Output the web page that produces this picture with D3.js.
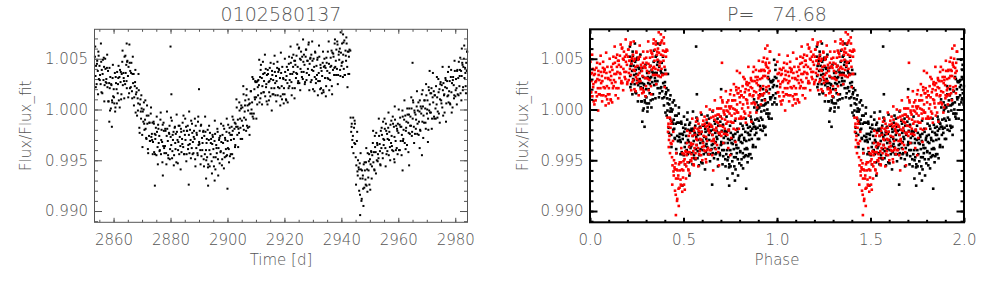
<!DOCTYPE html>
<html>
<head>
<meta charset="utf-8">
<script src="https://cdn.jsdelivr.net/npm/d3@7/dist/d3.min.js"></script>
<style>
  html, body { margin: 0; padding: 0; background: #fff; }
  svg { display: block; }
  text { font-family: 'DejaVu Sans', sans-serif; font-weight: 200; fill: #555; }
</style>
</head>
<body>
<div id="chart"></div>
<script>
const starId = '0102580137';
const period = 74.68;
const epoch = 2912.3;

const timeTicks = [2860, 2880, 2900, 2920, 2940, 2960, 2980];
const phaseTicks = [0, 0.5, 1, 1.5, 2];
const fluxTicks = [0.990, 0.995, 1.000, 1.005];

// [time (d), flux/flux_fit]
const lightCurve = [
  [2853.45,1.0052],[2853.65,1.0033],[2853.85,1.0043],
  [2854.05,1.0025],[2854.25,1.0048],[2854.45,1.0038],[2854.65,1.0057],[2854.85,1.0030],
  [2855.05,1.0043],[2855.25,1.0034],[2855.45,1.0025],[2855.65,1.0047],[2855.85,1.0039],
  [2856.05,1.0016],[2856.25,1.0049],[2856.45,1.0029],[2856.65,1.0042],[2856.85,1.0024],
  [2857.05,1.0050],[2857.25,1.0027],[2857.45,1.0030],[2857.65,1.0041],[2857.85,1.0022],
  [2858.05,1.0038],[2858.25,1.0008],[2858.45,1.0026],[2858.5,0.9988],[2858.65,1.0021],[2858.85,1.0032],
  [2859.05,1.0001],[2859.25,1.0024],[2859.4,0.9983],[2859.45,1.0009],[2859.65,1.0031],[2859.85,1.0013],
  [2860.05,1.0020],[2860.25,1.0006],[2860.45,1.0036],[2860.65,1.0002],[2860.85,1.0026],
  [2861.05,1.0020],[2861.25,1.0037],[2861.45,1.0016],[2861.65,1.0031],[2861.85,1.0009],
  [2862.05,1.0032],[2862.25,1.0039],[2862.45,1.0027],[2862.65,1.0010],[2862.85,1.0035],
  [2863.05,1.0047],[2863.25,1.0024],[2863.45,1.0036],[2863.65,1.0028],[2863.85,1.0052],
  [2864.05,1.0025],[2864.25,1.0036],[2864.45,1.0044],[2864.6,1.0065],[2864.65,1.0021],[2864.85,1.0048],
  [2865.05,1.0033],[2865.25,1.0042],[2865.45,1.0016],[2865.65,1.0046],[2865.85,1.0038],
  [2866.05,1.0022],[2866.25,1.0046],[2866.45,1.0018],[2866.65,1.0035],[2866.85,1.0026],
  [2867.05,1.0035],[2867.25,1.0012],[2867.45,1.0023],[2867.65,1.0039],[2867.85,1.0015],
  [2868.05,1.0017],[2868.25,0.9994],[2868.45,1.0011],[2868.65,1.0006],[2868.85,1.0019],
  [2869.05,0.9982],[2869.25,1.0005],[2869.45,1.0010],[2869.65,0.9991],[2869.85,1.0001],
  [2870.05,0.9975],[2870.25,0.9998],[2870.45,0.9988],[2870.65,1.0007],[2870.85,0.9980],
  [2871.05,0.9990],[2871.25,0.9981],[2871.45,0.9972],[2871.65,0.9994],[2871.85,0.9986],
  [2872.05,0.9961],[2872.25,0.9994],[2872.45,0.9974],[2872.65,0.9987],[2872.85,0.9969],
  [2873.05,0.9996],[2873.25,0.9973],[2873.45,0.9976],[2873.65,0.9987],[2873.85,0.9968],
  [2874.05,0.9988],[2874.25,0.9958],[2874.45,0.9976],[2874.5,0.9925],[2874.65,0.9971],[2874.85,0.9982],
  [2875.05,0.9955],[2875.25,0.9978],[2875.45,0.9963],[2875.65,0.9985],[2875.85,0.9967],
  [2876.05,0.9974],[2876.25,0.9960],[2876.45,0.9990],[2876.65,0.9956],[2876.85,0.9980],
  [2877.05,0.9968],[2877.25,0.9985],[2877.3,0.9935],[2877.45,0.9964],[2877.65,0.9979],[2877.85,0.9957],
  [2878.05,0.9964],[2878.25,0.9979],[2878.45,0.9957],[2878.65,0.9974],[2878.85,0.9981],
  [2879.05,0.9969],[2879.25,0.9952],[2879.45,0.9977],[2879.65,0.9984],[2879.85,0.9961],
  [2880.0,1.0062],[2880.05,0.9973],[2880.25,0.9965],[2880.3,1.0015],[2880.45,0.9989],[2880.65,0.9959],[2880.85,0.9970],
  [2881.05,0.9978],[2881.25,0.9955],[2881.45,0.9982],[2881.65,0.9967],[2881.85,0.9976],
  [2882.05,0.9948],[2882.25,0.9978],[2882.45,0.9970],[2882.65,0.9960],[2882.85,0.9984],
  [2883.05,0.9956],[2883.25,0.9973],[2883.45,0.9964],[2883.65,0.9981],[2883.85,0.9958],
  [2884.05,0.9971],[2884.25,0.9987],[2884.45,0.9963],[2884.65,0.9979],[2884.85,0.9956],
  [2885.05,0.9975],[2885.25,0.9970],[2885.45,0.9983],[2885.65,0.9956],[2885.85,0.9979],
  [2886.05,0.9984],[2886.25,0.9965],[2886.4,0.9926],[2886.45,0.9975],[2886.65,0.9957],[2886.85,0.9980],
  [2887.05,0.9970],[2887.25,0.9989],[2887.45,0.9962],[2887.65,0.9977],[2887.85,0.9968],
  [2888.05,0.9957],[2888.25,0.9979],[2888.45,0.9971],[2888.65,0.9951],[2888.85,0.9984],
  [2889.05,0.9962],[2889.25,0.9975],[2889.45,0.9957],[2889.65,0.9988],[2889.85,0.9965],
  [2890.0,1.0020],[2890.05,0.9968],[2890.25,0.9979],[2890.45,0.9960],[2890.65,0.9984],[2890.85,0.9954],
  [2891.05,0.9972],[2891.25,0.9967],[2891.45,0.9978],[2891.65,0.9951],[2891.85,0.9974],
  [2892.05,0.9956],[2892.25,0.9978],[2892.45,0.9960],[2892.5,0.9932],[2892.65,0.9967],[2892.85,0.9953],
  [2893.05,0.9980],[2893.2,0.9925],[2893.25,0.9946],[2893.45,0.9970],[2893.65,0.9960],[2893.85,0.9977],
  [2894.05,0.9956],[2894.25,0.9971],[2894.45,0.9949],[2894.65,0.9966],[2894.85,0.9973],
  [2895.05,0.9961],[2895.25,0.9944],[2895.45,0.9969],[2895.5,0.9930],[2895.65,0.9976],[2895.85,0.9953],
  [2896.05,0.9965],[2896.25,0.9957],[2896.45,0.9981],[2896.65,0.9951],[2896.85,0.9962],
  [2897.05,0.9970],[2897.25,0.9947],[2897.45,0.9974],[2897.65,0.9959],[2897.85,0.9968],
  [2898.05,0.9945],[2898.25,0.9975],[2898.45,0.9967],[2898.65,0.9957],[2898.85,0.9981],
  [2899.05,0.9953],[2899.25,0.9970],[2899.45,0.9961],[2899.65,0.9978],[2899.85,0.9955],
  [2900.0,0.9922],[2900.05,0.9969],[2900.25,0.9985],[2900.45,0.9961],[2900.65,0.9977],[2900.85,0.9954],
  [2901.05,0.9975],[2901.25,0.9970],[2901.45,0.9983],[2901.65,0.9956],[2901.85,0.9979],
  [2902.05,0.9990],[2902.25,0.9971],[2902.45,0.9981],[2902.65,0.9963],[2902.85,0.9986],
  [2903.05,0.9983],[2903.25,1.0002],[2903.45,0.9975],[2903.65,0.9990],[2903.85,0.9981],
  [2904.05,0.9977],[2904.25,0.9999],[2904.45,0.9991],[2904.65,0.9971],[2904.85,1.0004],
  [2905.05,0.9989],[2905.25,1.0002],[2905.45,0.9984],[2905.65,1.0015],[2905.85,0.9992],
  [2906.05,0.9998],[2906.25,1.0009],[2906.45,0.9990],[2906.65,1.0014],[2906.85,0.9984],
  [2907.05,1.0004],[2907.25,0.9999],[2907.45,1.0010],[2907.65,0.9983],[2907.85,1.0006],
  [2908.05,0.9996],[2908.25,1.0018],[2908.45,1.0000],[2908.65,1.0007],[2908.85,0.9993],
  [2909.05,1.0030],[2909.25,0.9996],[2909.45,1.0020],[2909.65,1.0010],[2909.85,1.0027],
  [2910.05,1.0012],[2910.25,1.0027],[2910.45,1.0005],[2910.65,1.0022],[2910.85,1.0029],
  [2911.05,1.0024],[2911.25,1.0007],[2911.45,1.0032],[2911.65,1.0039],[2911.85,1.0016],
  [2912.05,1.0031],[2912.25,1.0023],[2912.45,1.0047],[2912.65,1.0017],[2912.85,1.0028],
  [2913.05,1.0036],[2913.25,1.0013],[2913.45,1.0040],[2913.65,1.0025],[2913.85,1.0034],
  [2914.05,1.0005],[2914.25,1.0035],[2914.45,1.0027],[2914.65,1.0017],[2914.85,1.0041],
  [2915.05,1.0013],[2915.25,1.0030],[2915.45,1.0021],[2915.65,1.0038],[2915.85,1.0015],
  [2916.05,1.0029],[2916.25,1.0045],[2916.45,1.0021],[2916.65,1.0037],[2916.85,1.0014],
  [2917.05,1.0033],[2917.25,1.0028],[2917.45,1.0041],[2917.65,1.0014],[2917.85,1.0037],
  [2918.05,1.0040],[2918.25,1.0021],[2918.45,1.0031],[2918.65,1.0013],[2918.85,1.0036],
  [2919.05,1.0023],[2919.25,1.0042],[2919.45,1.0015],[2919.65,1.0030],[2919.85,1.0021],
  [2920.05,1.0015],[2920.25,1.0037],[2920.45,1.0029],[2920.65,1.0009],[2920.85,1.0042],
  [2921.05,1.0026],[2921.25,1.0039],[2921.45,1.0021],[2921.65,1.0052],[2921.85,1.0029],
  [2922.05,1.0035],[2922.25,1.0046],[2922.45,1.0027],[2922.65,1.0051],[2922.85,1.0021],
  [2923.05,1.0042],[2923.25,1.0037],[2923.45,1.0048],[2923.65,1.0021],[2923.85,1.0044],
  [2924.05,1.0031],[2924.25,1.0053],[2924.45,1.0035],[2924.65,1.0042],[2924.85,1.0028],
  [2925.05,1.0060],[2925.25,1.0026],[2925.45,1.0050],[2925.65,1.0040],[2925.85,1.0057],
  [2926.05,1.0037],[2926.25,1.0052],[2926.45,1.0030],[2926.65,1.0047],[2926.85,1.0054],
  [2927.05,1.0044],[2927.25,1.0027],[2927.45,1.0052],[2927.65,1.0059],[2927.85,1.0036],
  [2928.05,1.0048],[2928.25,1.0040],[2928.45,1.0064],[2928.65,1.0034],[2928.85,1.0045],
  [2929.05,1.0050],[2929.25,1.0027],[2929.45,1.0054],[2929.65,1.0039],[2929.85,1.0048],
  [2930.05,1.0020],[2930.25,1.0050],[2930.45,1.0042],[2930.65,1.0032],[2930.85,1.0056],
  [2931.05,1.0026],[2931.25,1.0043],[2931.45,1.0034],[2931.65,1.0051],[2931.85,1.0028],
  [2932.05,1.0036],[2932.25,1.0052],[2932.45,1.0028],[2932.65,1.0044],[2932.85,1.0021],
  [2933.05,1.0038],[2933.25,1.0033],[2933.45,1.0046],[2933.65,1.0019],[2933.85,1.0042],
  [2934.05,1.0050],[2934.25,1.0031],[2934.45,1.0041],[2934.65,1.0023],[2934.85,1.0046],
  [2935.05,1.0038],[2935.25,1.0057],[2935.45,1.0030],[2935.65,1.0045],[2935.85,1.0036],
  [2936.05,1.0029],[2936.25,1.0051],[2936.45,1.0043],[2936.65,1.0023],[2936.85,1.0056],
  [2937.05,1.0039],[2937.25,1.0052],[2937.45,1.0034],[2937.65,1.0065],[2937.85,1.0042],
  [2938.05,1.0048],[2938.25,1.0059],[2938.45,1.0040],[2938.65,1.0064],[2938.85,1.0034],
  [2939.05,1.0054],[2939.25,1.0049],[2939.45,1.0060],[2939.65,1.0033],[2939.85,1.0056],
  [2940.05,1.0043],[2940.25,1.0065],[2940.45,1.0047],[2940.6,1.0074],[2940.65,1.0054],[2940.85,1.0040],
  [2941.05,1.0068],[2941.25,1.0034],[2941.45,1.0058],[2941.65,1.0048],[2941.85,1.0065],
  [2942.05,1.0042],[2942.25,1.0057],[2942.45,1.0035],[2942.65,1.0052],[2942.85,1.0059],
  [2943.25,0.9992],[2943.45,0.9978],[2943.65,0.9986],[2943.85,0.9970],
  [2944.05,0.9974],[2944.25,0.9957],[2944.45,0.9982],[2944.65,0.9989],[2944.85,0.9966],
  [2945.05,0.9953],[2945.25,0.9945],[2945.45,0.9969],[2945.65,0.9939],[2945.85,0.9950],
  [2946.05,0.9943],[2946.25,0.9920],[2946.45,0.9947],[2946.6,0.9896],[2946.65,0.9932],[2946.85,0.9941],
  [2947.05,0.9910],[2947.25,0.9940],[2947.45,0.9932],[2947.65,0.9922],[2947.85,0.9946],
  [2948.05,0.9923],[2948.25,0.9940],[2948.45,0.9931],[2948.65,0.9948],[2948.85,0.9925],
  [2949.05,0.9941],[2949.25,0.9957],[2949.45,0.9933],[2949.65,0.9949],[2949.85,0.9926],
  [2950.05,0.9951],[2950.25,0.9946],[2950.45,0.9959],[2950.65,0.9932],[2950.85,0.9955],
  [2951.05,0.9967],[2951.25,0.9948],[2951.45,0.9958],[2951.65,0.9940],[2951.85,0.9963],
  [2952.05,0.9958],[2952.25,0.9977],[2952.45,0.9950],[2952.65,0.9965],[2952.85,0.9956],
  [2953.05,0.9952],[2953.25,0.9974],[2953.45,0.9966],[2953.65,0.9946],[2953.85,0.9979],
  [2954.05,0.9962],[2954.25,0.9975],[2954.45,0.9957],[2954.65,0.9988],[2954.85,0.9965],
  [2955.05,0.9970],[2955.25,0.9981],[2955.45,0.9962],[2955.65,0.9986],[2955.85,0.9956],
  [2956.05,0.9976],[2956.25,0.9971],[2956.45,0.9982],[2956.65,0.9955],[2956.85,0.9978],
  [2957.05,0.9963],[2957.25,0.9985],[2957.45,0.9967],[2957.65,0.9974],[2957.85,0.9960],
  [2958.05,0.9993],[2958.25,0.9959],[2958.45,0.9983],[2958.65,0.9973],[2958.7,0.9948],[2958.85,0.9990],
  [2959.05,0.9969],[2959.25,0.9984],[2959.45,0.9962],[2959.65,0.9979],[2959.85,0.9986],
  [2960.05,0.9977],[2960.25,0.9960],[2960.45,0.9985],[2960.65,0.9992],[2960.85,0.9969],
  [2961.05,0.9983],[2961.25,0.9975],[2961.45,0.9999],[2961.5,0.9940],[2961.65,0.9969],[2961.85,0.9980],
  [2962.05,0.9990],[2962.25,0.9967],[2962.45,0.9994],[2962.65,0.9979],[2962.85,0.9988],
  [2963.05,0.9965],[2963.25,0.9995],[2963.45,0.9987],[2963.65,0.9977],[2963.8,0.9945],[2963.85,1.0001],
  [2964.05,0.9976],[2964.25,0.9993],[2964.45,0.9984],[2964.65,1.0001],[2964.85,0.9978],
  [2965.0,1.0046],[2965.05,0.9991],[2965.25,1.0007],[2965.45,0.9983],[2965.65,0.9999],[2965.85,0.9976],
  [2966.05,0.9995],[2966.25,0.9990],[2966.45,1.0003],[2966.65,0.9976],[2966.85,0.9999],
  [2967.05,1.0007],[2967.25,0.9988],[2967.45,0.9998],[2967.5,0.9962],[2967.65,0.9980],[2967.85,1.0003],
  [2968.05,0.9996],[2968.25,1.0015],[2968.3,0.9955],[2968.45,0.9988],[2968.65,1.0003],[2968.85,0.9994],
  [2969.05,0.9987],[2969.25,1.0009],[2969.45,1.0001],[2969.65,0.9981],[2969.85,1.0014],
  [2970.05,0.9996],[2970.25,1.0009],[2970.4,0.9968],[2970.45,0.9991],[2970.65,1.0022],[2970.85,0.9999],
  [2971.0,1.0038],[2971.05,1.0005],[2971.25,1.0016],[2971.45,0.9997],[2971.65,1.0021],[2971.85,0.9991],
  [2972.05,1.0012],[2972.25,1.0007],[2972.45,1.0018],[2972.65,0.9991],[2972.85,1.0014],
  [2973.05,1.0001],[2973.25,1.0023],[2973.45,1.0005],[2973.65,1.0012],[2973.85,0.9998],
  [2974.05,1.0030],[2974.25,0.9996],[2974.45,1.0020],[2974.65,1.0010],[2974.85,1.0027],
  [2975.05,1.0009],[2975.25,1.0024],[2975.45,1.0002],[2975.65,1.0019],[2975.85,1.0026],
  [2976.05,1.0014],[2976.25,0.9997],[2976.45,1.0022],[2976.65,1.0029],[2976.85,1.0006],
  [2977.05,1.0021],[2977.25,1.0013],[2977.45,1.0037],[2977.65,1.0007],[2977.85,1.0018],
  [2978.05,1.0028],[2978.25,1.0005],[2978.45,1.0032],[2978.65,1.0017],[2978.85,1.0026],
  [2979.05,1.0002],[2979.25,1.0032],[2979.45,1.0024],[2979.65,1.0014],[2979.85,1.0038],
  [2980.05,1.0013],[2980.25,1.0030],[2980.45,1.0021],[2980.65,1.0038],[2980.85,1.0015],
  [2981.05,1.0031],[2981.25,1.0047],[2981.45,1.0023],[2981.65,1.0039],[2981.85,1.0016],
  [2982.05,1.0038],[2982.25,1.0033],[2982.3,1.0060],[2982.45,1.0046],[2982.65,1.0019],[2982.85,1.0042],
  [2983.05,1.0050],[2983.25,1.0031],[2983.45,1.0041],[2983.65,1.0023],[2983.85,1.0046],
  [2984.05,1.0038],[2984.2,1.0057],
  // in-between samples, wider scatter
  [2853.55,1.0062],[2853.75,1.0022],
  [2854.15,1.0045],[2854.55,1.0015],[2854.75,1.0053],
  [2855.15,1.0029],[2855.55,1.0065],[2855.75,1.0017],
  [2856.15,1.0035],[2856.55,1.0051],[2856.75,1.0008],
  [2857.15,1.0040],[2857.55,1.0026],[2857.75,1.0054],
  [2858.15,1.0008],[2858.55,1.0041],[2858.75,0.9999],
  [2859.15,1.0025],[2859.55,1.0007],[2859.75,1.0044],
  [2860.15,1.0012],[2860.55,0.9998],[2860.75,1.0032],
  [2861.15,1.0006],[2861.55,1.0025],[2861.75,1.0043],
  [2862.15,1.0002],[2862.55,1.0037],[2862.75,1.0015],
  [2863.15,1.0058],[2863.55,1.0031],[2863.75,1.0011],
  [2864.15,1.0053],[2864.55,1.0028],[2864.75,1.0047],
  [2865.15,1.0012],[2865.55,1.0064],[2865.75,1.0021],
  [2866.15,1.0036],[2866.55,1.0011],[2866.75,1.0052],
  [2867.15,1.0004],[2867.55,1.0027],[2867.75,0.9997],
  [2868.15,1.0021],[2868.55,0.9999],[2868.75,1.0035],
  [2869.15,0.9977],[2869.55,0.9998],[2869.75,1.0014],
  [2870.15,0.9963],[2870.55,1.0000],[2870.75,0.9986],
  [2871.15,1.0009],[2871.55,0.9971],[2871.75,1.0004],
  [2872.15,0.9957],[2872.55,0.9987],[2872.75,0.9969],
  [2873.15,1.0002],[2873.55,0.9970],[2873.75,0.9956],
  [2874.15,0.9986],[2874.55,0.9956],[2874.75,0.9975],
  [2875.15,0.9993],[2875.55,0.9946],[2875.75,0.9981],
  [2876.15,0.9959],[2876.55,0.9997],[2876.75,0.9970],
  [2877.15,0.9948],[2877.55,0.9987],[2877.75,0.9962],
  [2878.15,0.9981],[2878.55,0.9946],[2878.75,0.9998],
  [2879.15,0.9955],[2879.55,0.9976],[2879.75,0.9951],
  [2880.15,0.9992],[2880.55,0.9952],[2880.75,0.9975],
  [2881.15,0.9945],[2881.55,0.9983],[2881.75,0.9961],
  [2882.15,0.9995],[2882.55,0.9947],[2882.75,0.9968],
  [2883.15,0.9984],[2883.55,0.9941],[2883.75,0.9978],
  [2884.15,0.9966],[2884.55,0.9994],[2884.75,0.9956],
  [2885.15,0.9991],[2885.55,0.9949],[2885.75,0.9979],
  [2886.15,0.9961],[2886.55,0.9998],[2886.75,0.9966],
  [2887.15,0.9952],[2887.55,0.9986],[2887.75,0.9956],
  [2888.15,0.9973],[2888.55,0.9991],[2888.75,0.9944],
  [2889.15,0.9977],[2889.55,0.9955],[2889.75,0.9993],
  [2890.15,0.9966],[2890.55,0.9946],[2890.75,0.9985],
  [2891.15,0.9960],[2891.55,0.9979],[2891.75,0.9944],
  [2892.15,0.9993],[2892.55,0.9950],[2892.75,0.9971],
  [2893.15,0.9943],[2893.55,0.9984],[2893.75,0.9944],
  [2894.15,0.9967],[2894.55,0.9937],[2894.75,0.9975],
  [2895.15,0.9953],[2895.55,0.9989],[2895.75,0.9941],
  [2896.15,0.9962],[2896.55,0.9978],[2896.75,0.9935],
  [2897.15,0.9972],[2897.55,0.9958],[2897.75,0.9986],
  [2898.15,0.9951],[2898.55,0.9984],[2898.75,0.9942],
  [2899.15,0.9972],[2899.55,0.9954],[2899.75,0.9991],
  [2900.15,0.9962],[2900.55,0.9948],[2900.75,0.9982],
  [2901.15,0.9956],[2901.55,0.9975],[2901.75,0.9993],
  [2902.15,0.9952],[2902.55,0.9987],[2902.75,0.9965],
  [2903.15,1.0010],[2903.55,0.9983],[2903.75,0.9963],
  [2904.15,1.0007],[2904.55,0.9982],[2904.75,1.0001],
  [2905.15,0.9971],[2905.55,1.0023],[2905.75,0.9980],
  [2906.15,1.0004],[2906.55,0.9979],[2906.75,1.0020],
  [2907.15,0.9982],[2907.55,1.0005],[2907.75,0.9975],
  [2908.15,1.0018],[2908.55,0.9996],[2908.75,1.0032],
  [2909.15,0.9991],[2909.55,1.0012],[2909.75,1.0028],
  [2910.15,0.9991],[2910.55,1.0028],[2910.75,1.0014],
  [2911.15,1.0049],[2911.55,1.0011],[2911.75,1.0044],
  [2912.15,1.0005],[2912.55,1.0035],[2912.75,1.0017],
  [2913.15,1.0054],[2913.55,1.0022],[2913.75,1.0008],
  [2914.15,1.0039],[2914.55,1.0009],[2914.75,1.0028],
  [2915.15,1.0046],[2915.55,0.9999],[2915.75,1.0034],
  [2916.15,1.0015],[2916.55,1.0053],[2916.75,1.0026],
  [2917.15,1.0008],[2917.55,1.0047],[2917.75,1.0022],
  [2918.15,1.0039],[2918.55,1.0004],[2918.75,1.0056],
  [2919.15,1.0010],[2919.55,1.0031],[2919.75,1.0006],
  [2920.15,1.0050],[2920.55,1.0010],[2920.75,1.0033],
  [2921.15,1.0007],[2921.55,1.0045],[2921.75,1.0023],
  [2922.15,1.0062],[2922.55,1.0014],[2922.75,1.0035],
  [2923.15,1.0054],[2923.55,1.0011],[2923.75,1.0048],
  [2924.15,1.0036],[2924.55,1.0064],[2924.75,1.0026],
  [2925.15,1.0061],[2925.55,1.0019],[2925.75,1.0049],
  [2926.15,1.0032],[2926.55,1.0069],[2926.75,1.0037],
  [2927.15,1.0025],[2927.55,1.0059],[2927.75,1.0029],
  [2928.15,1.0048],[2928.55,1.0066],[2928.75,1.0019],
  [2929.15,1.0051],[2929.55,1.0029],[2929.75,1.0067],
  [2930.15,1.0038],[2930.55,1.0018],[2930.75,1.0057],
  [2931.15,1.0030],[2931.55,1.0049],[2931.75,1.0014],
  [2932.15,1.0063],[2932.55,1.0020],[2932.75,1.0041],
  [2933.15,1.0016],[2933.55,1.0057],[2933.75,1.0017],
  [2934.15,1.0043],[2934.55,1.0013],[2934.75,1.0051],
  [2935.15,1.0031],[2935.55,1.0067],[2935.75,1.0019],
  [2936.15,1.0042],[2936.55,1.0058],[2936.75,1.0015],
  [2937.15,1.0055],[2937.55,1.0041],[2937.75,1.0069],
  [2938.15,1.0034],[2938.55,1.0067],[2938.75,1.0025],
  [2939.15,1.0057],[2939.55,1.0039],[2939.75,1.0076],
  [2940.15,1.0046],[2940.55,1.0032],[2940.75,1.0066],
  [2941.15,1.0034],[2941.55,1.0053],[2941.75,1.0071],
  [2942.15,1.0022],[2942.55,1.0057],[2942.75,1.0035],
  [2943.15,1.0058],[2943.55,0.9983],[2943.75,0.9963],
  [2944.15,0.9992],[2944.55,0.9967],[2944.75,0.9986],
  [2945.15,0.9926],[2945.55,0.9978],[2945.75,0.9935],
  [2946.15,0.9941],[2946.55,0.9916],[2946.75,0.9957],
  [2947.15,0.9912],[2947.55,0.9935],[2947.75,0.9905],
  [2948.15,0.9948],[2948.55,0.9926],[2948.75,0.9962],
  [2949.15,0.9919],[2949.55,0.9940],[2949.75,0.9956],
  [2950.15,0.9921],[2950.55,0.9958],[2950.75,0.9944],
  [2951.15,0.9979],[2951.55,0.9941],[2951.75,0.9974],
  [2952.15,0.9937],[2952.55,0.9967],[2952.75,0.9949],
  [2953.15,0.9991],[2953.55,0.9959],[2953.75,0.9945],
  [2954.15,0.9982],[2954.55,0.9952],[2954.75,0.9971],
  [2955.15,0.9991],[2955.55,0.9944],[2955.75,0.9979],
  [2956.15,0.9959],[2956.55,0.9997],[2956.75,0.9970],
  [2957.15,0.9950],[2957.55,0.9989],[2957.75,0.9964],
  [2958.15,0.9986],[2958.55,0.9951],[2958.75,1.0003],
  [2959.15,0.9960],[2959.55,0.9981],[2959.75,0.9956],
  [2960.15,1.0000],[2960.55,0.9960],[2960.75,0.9983],
  [2961.15,0.9955],[2961.55,0.9993],[2961.75,0.9971],
  [2962.15,1.0009],[2962.55,0.9961],[2962.75,0.9982],
  [2963.15,1.0001],[2963.55,0.9958],[2963.75,0.9995],
  [2964.15,0.9984],[2964.55,1.0012],[2964.75,0.9974],
  [2965.15,1.0009],[2965.55,0.9967],[2965.75,0.9997],
  [2966.15,0.9981],[2966.55,1.0018],[2966.75,0.9986],
  [2967.15,0.9975],[2967.55,1.0009],[2967.75,0.9979],
  [2968.15,1.0001],[2968.55,1.0019],[2968.75,0.9972],
  [2969.15,1.0009],[2969.55,0.9987],[2969.75,1.0025],
  [2970.15,1.0000],[2970.55,0.9980],[2970.75,1.0019],
  [2971.15,0.9997],[2971.55,1.0016],[2971.75,0.9981],
  [2972.15,1.0036],[2972.55,0.9993],[2972.75,1.0014],
  [2973.15,0.9991],[2973.55,1.0032],[2973.75,0.9992],
  [2974.15,1.0017],[2974.55,0.9987],[2974.75,1.0025],
  [2975.15,1.0006],[2975.55,1.0042],[2975.75,0.9994],
  [2976.15,1.0015],[2976.55,1.0031],[2976.75,0.9988],
  [2977.15,1.0028],[2977.55,1.0014],[2977.75,1.0042],
  [2978.15,1.0006],[2978.55,1.0039],[2978.75,0.9997],
  [2979.15,1.0029],[2979.55,1.0011],[2979.75,1.0048],
  [2980.15,1.0019],[2980.55,1.0005],[2980.75,1.0039],
  [2981.15,1.0014],[2981.55,1.0033],[2981.75,1.0051],
  [2982.15,1.0009],[2982.55,1.0044],[2982.75,1.0022],
  [2983.15,1.0063],[2983.55,1.0036],[2983.75,1.0016],
  [2984.15,1.0057]
];

const WIDTH = 992;
const HEIGHT = 283;
const TOP = 29.3;
const BOTTOM = 222.3;

const svg = d3.create('svg').attr('width', WIDTH).attr('height', HEIGHT);
svg.append('rect').attr('width', WIDTH).attr('height', HEIGHT).attr('fill', '#fff');

const yScale = d3.scaleLinear().domain([0.98889, 1.0079]).range([BOTTOM, TOP]);
const timeScale = d3.scaleLinear().domain([2853.3, 2984.3]).range([94.5, 467.5]);
const phaseScale = d3.scaleLinear().domain([0, 2]).range([590, 964]);

const toPhase = (t) => {
  const p = ((t - epoch) / period) % 1;
  return p < 0 ? p + 1 : p;
};

const drawFrame = (xScale, xTicks, xMinor, xFormat, opts) => {
  const [x0, x1] = xScale.range();
  const g = svg.append('g');
  const color = opts.color;

  const style = (sel) => {
    sel.select('.domain').remove();
    sel.selectAll('line').attr('stroke', color).attr('stroke-width', opts.width);
    sel.selectAll('text')
      .style('font-size', '15px')
      .attr('fill', '#555');
  };

  // bottom
  g.append('g').attr('transform', `translate(0,${BOTTOM})`)
    .call(d3.axisBottom(xScale).tickValues(xMinor).tickSize(-2.5).tickFormat('')).call(style);
  g.append('g').attr('transform', `translate(0,${BOTTOM})`)
    .call(d3.axisBottom(xScale).tickValues(xTicks).tickSize(-4.5).tickPadding(12.5).tickFormat(xFormat)).call(style);
  // top
  g.append('g').attr('transform', `translate(0,${TOP})`)
    .call(d3.axisTop(xScale).tickValues(xMinor).tickSize(-2.5).tickFormat('')).call(style);
  g.append('g').attr('transform', `translate(0,${TOP})`)
    .call(d3.axisTop(xScale).tickValues(xTicks).tickSize(-4.5).tickFormat('')).call(style);
  // left
  g.append('g').attr('transform', `translate(${x0},0)`)
    .call(d3.axisLeft(yScale).tickValues(d3.range(0.989, 1.0079, 0.001)).tickSize(-3.5).tickFormat('')).call(style);
  g.append('g').attr('transform', `translate(${x0},0)`)
    .call(d3.axisLeft(yScale).tickValues(fluxTicks).tickSize(-7.5).tickPadding(6.5).tickFormat(d3.format('.3f'))).call(style);
  // right
  g.append('g').attr('transform', `translate(${x1},0)`)
    .call(d3.axisRight(yScale).tickValues(d3.range(0.989, 1.0079, 0.001)).tickSize(-3.5).tickFormat('')).call(style);
  g.append('g').attr('transform', `translate(${x1},0)`)
    .call(d3.axisRight(yScale).tickValues(fluxTicks).tickSize(-7.5).tickFormat('')).call(style);

  g.append('rect')
    .attr('x', x0).attr('y', TOP)
    .attr('width', x1 - x0).attr('height', BOTTOM - TOP)
    .attr('fill', 'none').attr('stroke', color).attr('stroke-width', opts.width);
};

const drawLabels = (xScale, title, xTitle, yX) => {
  const [x0, x1] = xScale.range();
  const cx = (x0 + x1) / 2;
  svg.append('text')
    .attr('x', cx).attr('y', 20.5)
    .attr('text-anchor', 'middle')
    .style('font-size', '19px')
    .style('white-space', 'pre')
    .text(title);
  svg.append('text')
    .attr('x', cx).attr('y', 265)
    .attr('text-anchor', 'middle')
    .style('font-size', '15px')
    .text(xTitle);
  svg.append('text')
    .attr('transform', `translate(${yX},${(TOP + BOTTOM) / 2}) rotate(-90)`)
    .attr('text-anchor', 'middle')
    .style('font-size', '15px')
    .text('Flux/Flux_fit');
};

// left panel: light curve
svg.append('g')
  .selectAll('rect')
  .data(lightCurve)
  .join('rect')
  .attr('x', (d) => timeScale(d[0]) - 1)
  .attr('y', (d) => yScale(d[1]) - 1)
  .attr('width', 2)
  .attr('height', 2)
  .attr('fill', '#000');

drawFrame(timeScale, timeTicks, d3.range(2855, 2985, 5), d3.format('d'), { color: '#555', width: 1 });
drawLabels(timeScale, starId, 'Time [d]', 31);

// right panel: phase folded, first cycle black, second cycle red
const folded = [];
lightCurve.forEach(([t, f]) => {
  const p = toPhase(t);
  const cycle = t < epoch ? 0 : 1;
  folded.push({ phase: p, flux: f, cycle });
  folded.push({ phase: p + 1, flux: f, cycle });
});
folded.sort((a, b) => a.cycle - b.cycle);

svg.append('g')
  .selectAll('rect')
  .data(folded)
  .join('rect')
  .attr('x', (d) => phaseScale(d.phase) - 1.3)
  .attr('y', (d) => yScale(d.flux) - 1.3)
  .attr('width', 2.6)
  .attr('height', 2.6)
  .attr('fill', (d) => (d.cycle === 0 ? '#000' : '#f00'));

drawFrame(phaseScale, phaseTicks, d3.range(0.1, 2, 0.1), d3.format('.1f'), { color: '#000', width: 2 });
drawLabels(phaseScale, `P=   ${period.toFixed(2)}`, 'Phase', 528);

document.getElementById('chart').appendChild(svg.node());
</script>
</body>
</html>
